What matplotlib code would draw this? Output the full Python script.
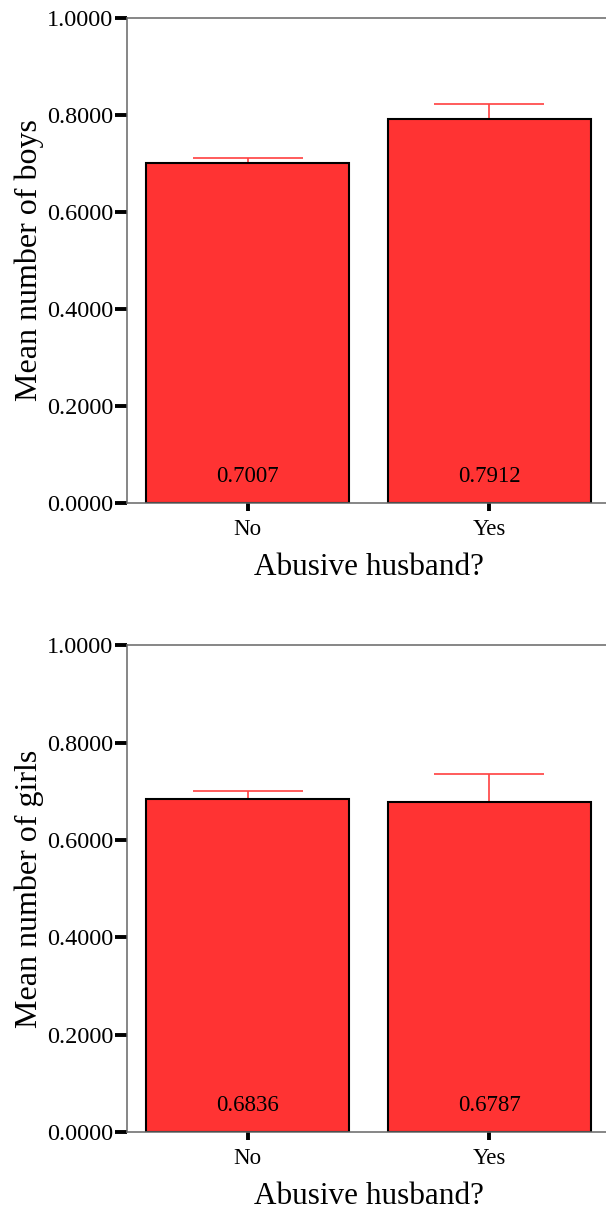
import matplotlib
matplotlib.use("Agg")
import matplotlib.pyplot as plt
import numpy as np

# categories and values
categories = ["No", "Yes"]
boys_mean = [0.7007, 0.7912]
boys_err = [0.011, 0.031]
girls_mean = [0.6836, 0.6787]
girls_err = [0.018, 0.056]
y_ticks = [0.0, 0.2, 0.4, 0.6, 0.8, 1.0]

plt.rcParams['font.family'] = ['Liberation Serif', 'DejaVu Serif']

bar_col = '#ff3333'
err_col = '#ff4040'
spine_col = '#666666'

fig = plt.figure(figsize=(6.06, 12.14), dpi=100)


def panel(rect, means, errs, ylabel):
    ax = fig.add_axes(rect)
    x = np.arange(len(categories))
    ax.errorbar(x, means, yerr=[np.zeros(len(errs)), errs], fmt='none',
                ecolor=err_col, elinewidth=1.2, capsize=39.6, capthick=1.2,
                zorder=1)
    ax.bar(x, means, width=0.84, color=bar_col, edgecolor='black',
           linewidth=1.5, zorder=2)
    for xi, m in zip(x, means):
        ax.text(xi, 0.055, "%.4f" % m, ha='center', va='center',
                fontsize=16.5, zorder=3)
    ax.set_xlim(-0.5, 1.5)
    ax.set_ylim(0, 1)
    ax.set_yticks(y_ticks)
    ax.set_yticklabels(["%.4f" % t for t in y_ticks])
    ax.set_xticks(x)
    ax.set_xticklabels(categories)
    for s in ['left', 'bottom', 'top', 'right']:
        ax.spines[s].set_color(spine_col)
        ax.spines[s].set_linewidth(1.1)
    ax.tick_params(axis='y', length=8.5, width=2.8, color='black',
                   labelsize=17.5, pad=1.5)
    ax.tick_params(axis='x', length=5.8, width=2.8, color='black',
                   labelsize=16.5, pad=6)
    ax.set_ylabel(ylabel, fontsize=23, labelpad=2)
    ax.set_xlabel("Abusive husband?", fontsize=22.5, labelpad=9)
    return ax


panel([0.2096, 0.5857, 0.797, 0.3995], boys_mean, boys_err,
      "Mean number of boys")
panel([0.2096, 0.0675, 0.797, 0.401], girls_mean, girls_err,
      "Mean number of girls")

fig.savefig("out.png", dpi=100)
